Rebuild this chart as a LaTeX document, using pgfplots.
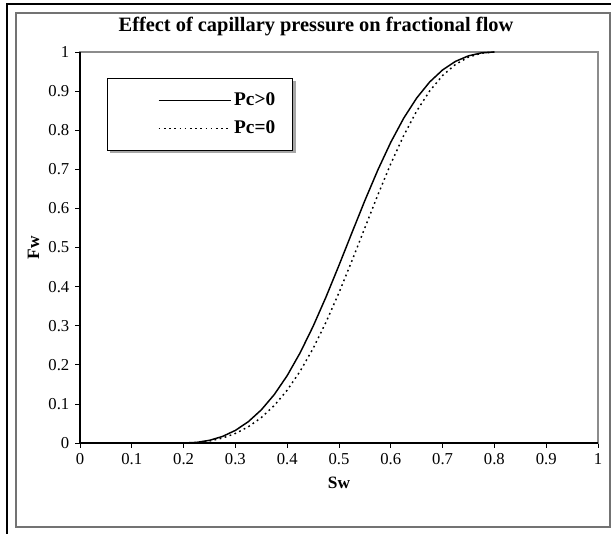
\documentclass[border=0pt]{standalone}
\usepackage{pgfplots}
\pgfplotsset{compat=1.18}
\usepackage{fontspec}
\setmainfont{Liberation Serif}
\begin{document}
\begin{tikzpicture}[x=0.75pt,y=0.75pt]
\clip (0,0) rectangle (611,533);
\fill[white] (0,0) rectangle (611,533);
\draw[black,line width=1.5pt] (7,529) rectangle (640,-20);
\draw[black!55,line width=1.1pt] (16,520) rectangle (610,6);
\node[font=\bfseries\fontsize{15.3}{17}\selectfont] at (316,506) {Effect of capillary pressure on fractional flow};
\begin{axis}[
  at={(60pt,67.5pt)}, anchor=south west,
  scale only axis, width=388.5pt, height=293.25pt,
  xmin=0, xmax=1, ymin=0, ymax=1,
  xtick={0,0.1,...,1}, ytick={0,0.1,...,1},
  xticklabels={0,0.1,0.2,0.3,0.4,0.5,0.6,0.7,0.8,0.9,1},
  yticklabels={0,0.1,0.2,0.3,0.4,0.5,0.6,0.7,0.8,0.9,1},
  xtick pos=bottom, ytick pos=left,
  tick align=outside, major tick length=3.5pt,
  tick style={black, line width=0.6pt},
  axis line style={draw=black!45, line width=0.8pt},
  ticklabel style={font=\fontsize{12.5}{14}\selectfont},
  xticklabel style={yshift=-1pt},
  yticklabel style={xshift=-1pt},
  xlabel={\textbf{Sw}}, ylabel={\textbf{Fw}},
  label style={font=\fontsize{13}{15}\selectfont},
  xlabel style={yshift=-2pt},
  ylabel style={yshift=0pt},
  legend style={at={(0.052,0.934)}, anchor=north west, draw=black, line width=0.6pt, fill=white,
    font=\bfseries\fontsize{14.5}{16}\selectfont, inner xsep=11pt, inner ysep=9pt,
    row sep=6pt, cells={anchor=west}},
  legend image code/.code={\path (-27pt,0pt); \draw[#1] (0pt,0pt) -- (54pt,0pt);},
  clip=false,
]
\fill[black!35] (rel axis cs:0.058,0.926) rectangle (rel axis cs:0.417,0.741);
\addplot[black, line width=1.1pt] coordinates {
(0.200,0) (0.225,0.00157) (0.250,0.00684) (0.275,0.01672) (0.300,0.03226)
(0.325,0.05456) (0.350,0.08475) (0.375,0.12380) (0.400,0.17241) (0.425,0.23077)
(0.450,0.29833) (0.475,0.37369) (0.500,0.45455) (0.525,0.53788) (0.550,0.62026)
(0.575,0.69832) (0.600,0.76923) (0.625,0.83094) (0.650,0.88235) (0.675,0.92327)
(0.700,0.95420) (0.725,0.97610) (0.750,0.99018) (0.775,0.99774) (0.800,1)
};
\addlegendentry{Pc>0}
\addplot[black, line width=1.1pt, dash pattern=on 1.3pt off 2.6pt] coordinates {
(0.200,0) (0.225,0.00118) (0.250,0.00514) (0.275,0.01259) (0.300,0.02439)
(0.325,0.04149) (0.350,0.06494) (0.375,0.09581) (0.400,0.13514) (0.425,0.18367)
(0.450,0.24178) (0.475,0.30915) (0.500,0.38462) (0.525,0.46608) (0.550,0.55056)
(0.575,0.63452) (0.600,0.71429) (0.625,0.78661) (0.650,0.84906) (0.675,0.90025)
(0.700,0.93985) (0.725,0.96838) (0.750,0.98695) (0.775,0.99698) (0.800,1)
};
\addlegendentry{Pc=0}
\draw[black, line width=0.8pt] (rel axis cs:0,1) -- (rel axis cs:0,0) -- (rel axis cs:1,0);
\end{axis}
\end{tikzpicture}
\end{document}
